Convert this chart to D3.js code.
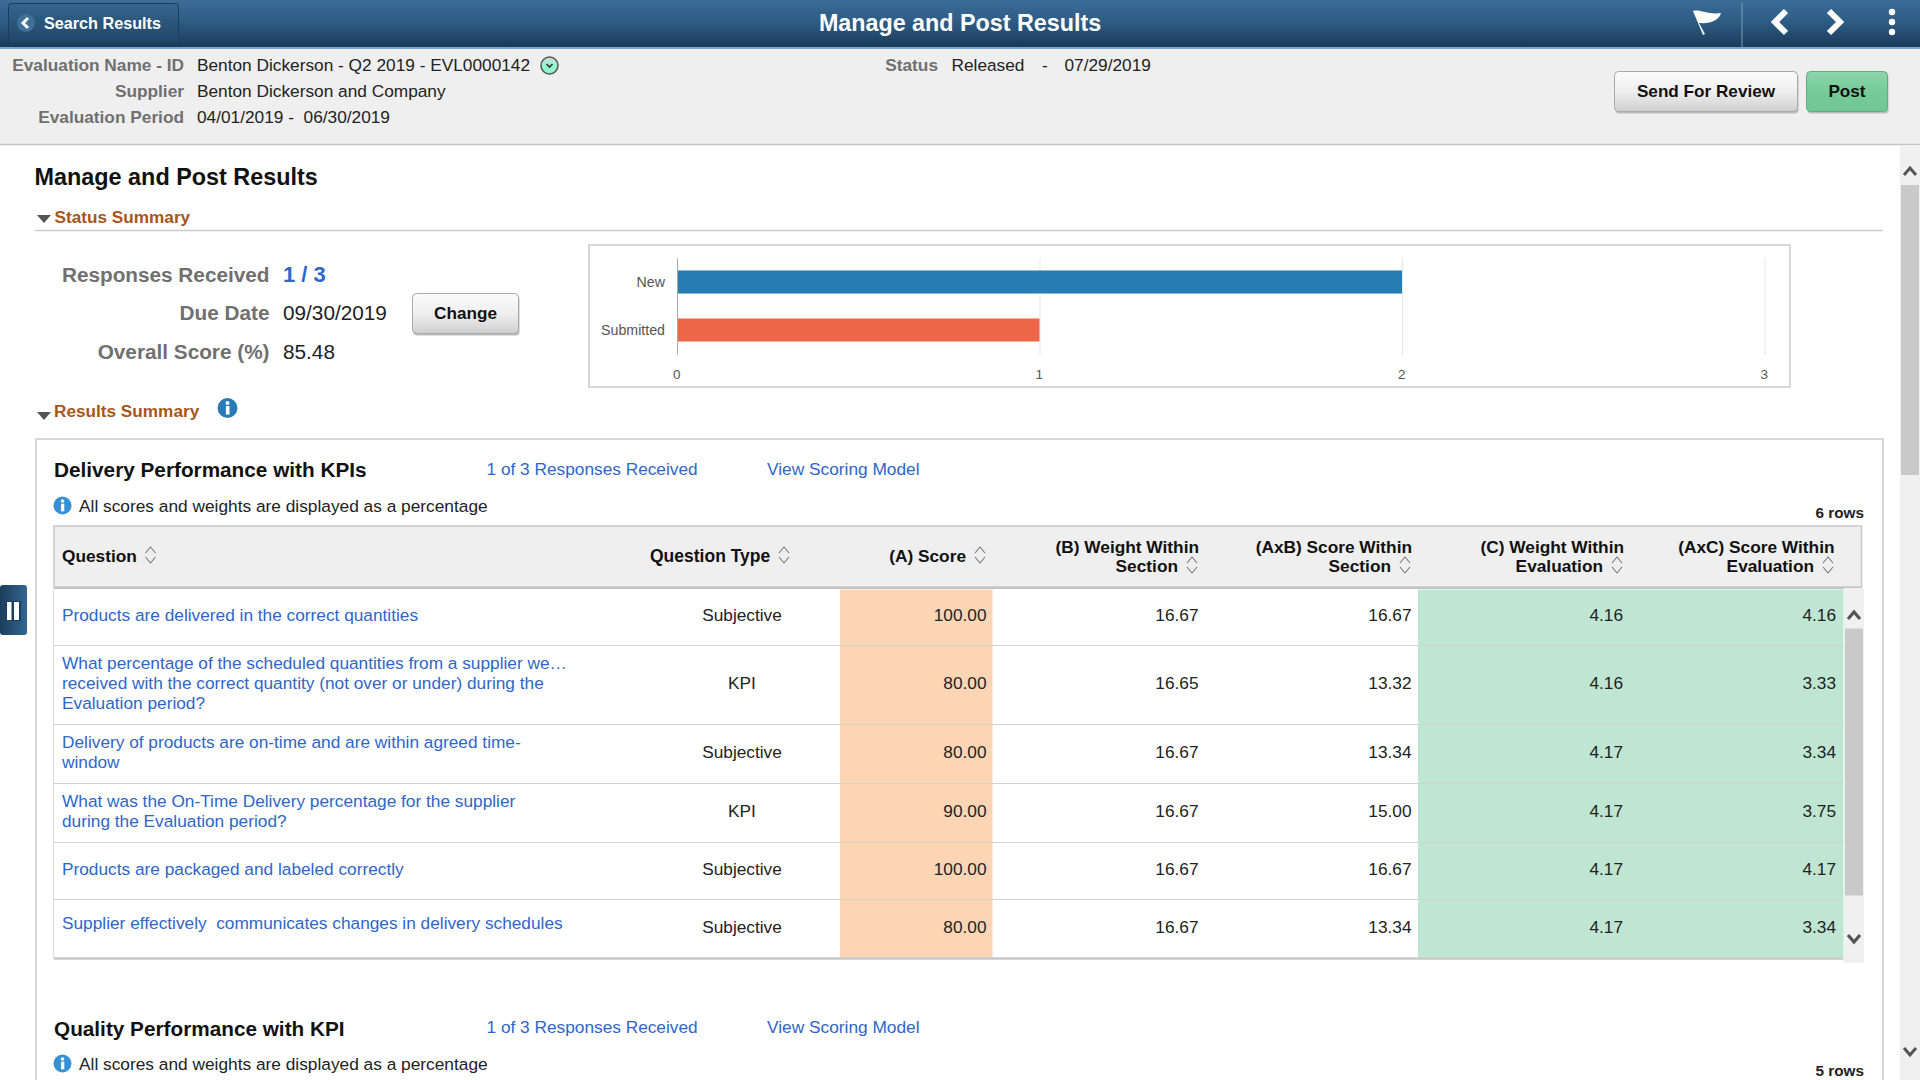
<!DOCTYPE html>
<html>
<head>
<meta charset="utf-8">
<title>Manage and Post Results</title>
<script src="https://cdn.jsdelivr.net/npm/d3@7"></script>
<style>
  html, body { margin: 0; padding: 0; background: #fff; overflow: hidden; }
  svg { display: block; font-family: "Liberation Sans", Arial, sans-serif; }
  .tick-label text { font-family: "Liberation Sans", Arial, sans-serif; }
</style>
</head>
<body>
<svg id="page" width="1920" height="1080"></svg>
<script>
// status chart
const statusCategories = ["New", "Submitted"];
const statusCounts = [2, 1];

// results table
const columnHeaders = [
  ["(A) Score"],
  ["(B) Weight Within", "Section"],
  ["(AxB) Score Within", "Section"],
  ["(C) Weight Within", "Evaluation"],
  ["(AxC) Score Within", "Evaluation"],
];
const questions = [
  ["Products are delivered in the correct quantities"],
  ["What percentage of the scheduled quantities from a supplier we…", "received with the correct quantity (not over or under) during the", "Evaluation period?"],
  ["Delivery of products are on-time and are within agreed time-", "window"],
  ["What was the On-Time Delivery percentage for the supplier", "during the Evaluation period?"],
  ["Products are packaged and labeled correctly"],
  ["Supplier effectively  communicates changes in delivery schedules"],
];
const questionTypes = ["Subjective", "KPI", "Subjective", "KPI", "Subjective", "Subjective"];
const scores = [100, 80, 80, 90, 100, 80];
const weightSection = [16.67, 16.65, 16.67, 16.67, 16.67, 16.67];
const scoreSection = [16.67, 13.32, 13.34, 15.0, 16.67, 13.34];
const weightEvaluation = [4.16, 4.16, 4.17, 4.17, 4.17, 4.17];
const scoreEvaluation = [4.16, 3.33, 3.34, 3.75, 4.17, 3.34];

// layout
const ROW_EDGES = [587, 645, 724, 783, 842, 899, 958];
const QUESTION_NUDGE = [0, 0, 0, 0, 0, -4];
const COLUMN_RIGHT = [986.5, 1198.5, 1411.5, 1623, 1836];
const HEADER_RIGHT = [966, 1178, 1391, 1603, 1814];
const HEADER_TOP_RIGHT = [966, 1199, 1412, 1624, 1834.5];
const LINK_BLUE = "#2f66c8";
const TEXT_SIZE = 17.28;
const HEAD_SIZE = 17.3;
const BIG_SIZE = 20.75;

const svg = d3.select("#page");
const defs = svg.append("defs");

function gradient(id, stops, horizontal) {
  const g = defs.append("linearGradient").attr("id", id)
    .attr("x1", 0).attr("y1", 0)
    .attr("x2", horizontal ? 1 : 0).attr("y2", horizontal ? 0 : 1);
  stops.forEach((s, i) => g.append("stop").attr("offset", i / (stops.length - 1)).attr("stop-color", s));
}
gradient("barGrad", ["#3b6d97", "#2c5a82", "#1a3a58"]);
gradient("backGrad", ["#35658e", "#1f4566"]);
gradient("btnGrad", ["#fafafa", "#efefef", "#cfcfcf"]);
gradient("postGrad", ["#8fd4ab", "#76cb99", "#6fc793"]);
gradient("tabGrad", ["#1c3d5c", "#34668f"], true);
gradient("dropGrad", ["#d8d8d8", "#90f7d2", "#90f7d2"]);

function text(x, y, str, size, opts) {
  const o = opts || {};
  return svg.append("text")
    .attr("x", x).attr("y", y)
    .attr("font-size", size)
    .attr("font-weight", o.weight || "normal")
    .attr("text-anchor", o.anchor || "start")
    .attr("fill", o.fill || "#222")
    .text(str);
}

function rect(x, y, w, h, fill, stroke) {
  return svg.append("rect")
    .attr("x", x).attr("y", y).attr("width", w).attr("height", h)
    .attr("fill", fill).attr("stroke", stroke || "none");
}

function line(x1, y1, x2, y2, color, width) {
  return svg.append("line")
    .attr("x1", x1).attr("y1", y1).attr("x2", x2).attr("y2", y2)
    .attr("stroke", color).attr("stroke-width", width || 1);
}

function path(d, stroke, width, fill) {
  return svg.append("path")
    .attr("d", d)
    .attr("fill", fill || "none")
    .attr("stroke", stroke || "none")
    .attr("stroke-width", width || 1);
}

function button(x, y, w, h, fill, border, label) {
  rect(x + 1, y + 2, w, h, "#bbb").attr("rx", 4);
  rect(x, y, w, h, fill, border).attr("rx", 4);
  text(x + w / 2, y + h / 2 + 5, label, 17.15, { weight: "bold", anchor: "middle", fill: "#111" });
}

function infoIcon(cx, cy, r, fill) {
  svg.append("circle").attr("cx", cx).attr("cy", cy).attr("r", r).attr("fill", fill);
  rect(cx - r * 0.16, cy - r * 0.2, r * 0.36, r * 0.85, "#fff");
  svg.append("circle").attr("cx", cx + 0.02).attr("cy", cy - r * 0.5).attr("r", r * 0.2).attr("fill", "#fff");
}

function sortIcon(cx, cy) {
  path(`M${cx - 5},${cy - 2}L${cx},${cy - 8}L${cx + 5},${cy - 2}`, "#777", 1.1);
  path(`M${cx - 5},${cy + 2}L${cx},${cy + 8}L${cx + 5},${cy + 2}`, "#777", 1.1);
}

function sectionToggle(x, y) {
  path(`M${x},${y}L${x + 14},${y}L${x + 7},${y + 8}Z`, "none", 0, "#555");
}

// top bar
rect(0, 0, 1920, 47, "url(#barGrad)");
rect(0, 47, 1920, 2, "#7aa6d6");
rect(8.5, 3.5, 170, 40, "url(#backGrad)", "#1b3d5c").attr("rx", 3);
svg.append("circle").attr("cx", 26).attr("cy", 23).attr("r", 9).attr("fill", "#3f7099");
path("M28,18L23,23L28,28", "#fff", 3);
text(44, 29, "Search Results", 16.2, { weight: "bold", fill: "#fff" });
text(960, 31, "Manage and Post Results", 23.3, { weight: "bold", anchor: "middle", fill: "#fff" });
path("M1693,11C1700,9 1708,15 1721,13C1719,19 1714,24 1699,23L1705,34L1703,35Z", "none", 0, "#fff");
line(1742, 3, 1742, 48, "#7f9db8");
path("M1786,11L1775,22L1786,33", "#fff", 6);
path("M1829,11L1840,22L1829,33", "#fff", 6);
[12, 22, 32].forEach((y) => svg.append("circle").attr("cx", 1892).attr("cy", y).attr("r", 3.2).attr("fill", "#fff"));

// evaluation info band
rect(0, 49, 1920, 95, "#efefef");
line(0, 144.5, 1920, 144.5, "#c4c4c4", 1.5);
const infoLabels = ["Evaluation Name - ID", "Supplier", "Evaluation Period"];
const infoValues = ["Benton Dickerson - Q2 2019 - EVL0000142", "Benton Dickerson and Company", "04/01/2019 -  06/30/2019"];
const infoBaselines = [71, 97, 122.5];
infoLabels.forEach((d, i) => text(184, infoBaselines[i], d, TEXT_SIZE, { weight: "bold", anchor: "end", fill: "#707070" }));
infoValues.forEach((d, i) => text(197, infoBaselines[i], d, TEXT_SIZE).attr("xml:space", "preserve"));
svg.append("circle").attr("cx", 549.5).attr("cy", 65.5).attr("r", 8.5).attr("fill", "url(#dropGrad)").attr("stroke", "#555").attr("stroke-width", 1.5);
path("M546.5,64L549.5,67L552.5,64", "#333", 1.6);
text(938, 71, "Status", TEXT_SIZE, { weight: "bold", anchor: "end", fill: "#707070" });
text(951.5, 71, "Released", TEXT_SIZE);
text(1042, 71, "-", TEXT_SIZE);
text(1064.5, 71, "07/29/2019", TEXT_SIZE);
button(1614.5, 71.5, 183, 40, "url(#btnGrad)", "#aaa", "Send For Review");
button(1806.5, 71.5, 81, 40, "url(#postGrad)", "#5fae82", "Post");

// page scrollbar
rect(1900, 145, 20, 935, "#f0f0f0");
rect(1901, 185, 18, 290, "#c9c9c9");
path("M1904,175L1910,168L1916,175", "#555", 3);
path("M1904,1048L1910,1055L1916,1048", "#555", 3);

// page title and status summary
text(34.5, 185, "Manage and Post Results", 23.4, { weight: "bold", fill: "#111" });
sectionToggle(37, 215);
text(54.5, 222.5, "Status Summary", 17.2, { weight: "bold", fill: "#a8551b" });
line(35, 230.5, 1883, 230.5, "#ccc", 1.5);

text(269.5, 282, "Responses Received", BIG_SIZE, { weight: "bold", anchor: "end", fill: "#707070" });
text(283, 282, "1 / 3", 22, { weight: "bold", fill: LINK_BLUE });
text(269.5, 320, "Due Date", BIG_SIZE, { weight: "bold", anchor: "end", fill: "#707070" });
text(283, 320, "09/30/2019", BIG_SIZE);
text(269.5, 358.5, "Overall Score (%)", BIG_SIZE, { weight: "bold", anchor: "end", fill: "#707070" });
text(283, 358.5, "85.48", BIG_SIZE);
button(412.5, 293.5, 106, 40, "url(#btnGrad)", "#aaa", "Change");

// status bar chart
rect(589, 245, 1201, 142, "#fff", "#ccc").attr("stroke-width", 1.5);
const x = d3.scaleLinear().domain([0, 3]).range([677, 1764.5]);
const y = d3.scaleBand().domain(statusCategories).range([258, 354])
  .paddingInner(0.52).paddingOuter(0.26);
const barColor = d3.scaleOrdinal().domain(statusCategories).range(["#277cb4", "#ee6748"]);

const xAxis = svg.append("g")
  .attr("class", "tick-label")
  .attr("transform", "translate(0,355)")
  .call(d3.axisBottom(x).ticks(3).tickSize(-97).tickPadding(14).tickFormat(d3.format("d")));
xAxis.select(".domain").remove();
xAxis.selectAll("line").attr("stroke", "#e6e6e6");
xAxis.selectAll("text").attr("font-size", 13.5).attr("fill", "#555").attr("dx", -0.7);

svg.append("g").selectAll("rect")
  .data(statusCategories)
  .join("rect")
  .attr("x", x(0))
  .attr("y", (d) => y(d))
  .attr("width", (d, i) => x(statusCounts[i]) - x(0))
  .attr("height", y.bandwidth())
  .attr("fill", (d) => barColor(d));

const yAxis = svg.append("g")
  .attr("class", "tick-label")
  .attr("transform", "translate(677,0)")
  .call(d3.axisLeft(y).tickSize(0).tickPadding(12));
yAxis.select(".domain").attr("stroke", "#aaa");
yAxis.selectAll("text").attr("font-size", 14.2).attr("fill", "#555").attr("dy", "0.38em");

// results summary
sectionToggle(37, 412);
text(54, 417, "Results Summary", 17.2, { weight: "bold", fill: "#a8551b" });
infoIcon(227.5, 408, 10, "#2a7ab5");

rect(36, 439, 1847, 700, "#fff", "#ccc").attr("stroke-width", 1.5);

function sectionHead(titleStr, rowsStr, titleY, linkY, noteY, rowsY) {
  text(54, titleY, titleStr, BIG_SIZE, { weight: "bold", fill: "#111" });
  text(486.5, linkY, "1 of 3 Responses Received", TEXT_SIZE, { fill: LINK_BLUE });
  text(767, linkY, "View Scoring Model", TEXT_SIZE + 0.03, { fill: LINK_BLUE });
  infoIcon(62.5, noteY - 6, 9, "#3590d6");
  text(79, noteY, "All scores and weights are displayed as a percentage", TEXT_SIZE + 0.03);
  text(1864, rowsY, rowsStr, 15.3, { weight: "bold", anchor: "end", fill: "#222" });
}
sectionHead("Delivery Performance with KPIs", "6 rows", 477, 475, 511.5, 518);
sectionHead("Quality Performance with KPI", "5 rows", 1036, 1033, 1069.5, 1076);

// table header
rect(54, 526, 1807.5, 61, "#efefef", "#c8c8c8").attr("stroke-width", 1.5);
line(54, 588, 1861.5, 588, "#c4c4c4", 2);
text(62, 562, "Question", HEAD_SIZE, { weight: "bold", fill: "#111" });
sortIcon(150.5, 555);
text(650, 562, "Question Type", HEAD_SIZE + 0.2, { weight: "bold", fill: "#111" });
sortIcon(784, 555);
columnHeaders.forEach((lines, c) => {
  if (lines.length === 1) {
    text(HEADER_RIGHT[c], 562, lines[0], HEAD_SIZE, { weight: "bold", anchor: "end", fill: "#111" });
    sortIcon(HEADER_RIGHT[c] + 14, 555);
  } else {
    text(HEADER_TOP_RIGHT[c], 553, lines[0], HEAD_SIZE, { weight: "bold", anchor: "end", fill: "#111" });
    text(HEADER_RIGHT[c], 572, lines[1], HEAD_SIZE, { weight: "bold", anchor: "end", fill: "#111" });
    sortIcon(HEADER_RIGHT[c] + 14, 565);
  }
});

// table rows
const rowTop = d3.scaleOrdinal().domain(d3.range(7)).range(ROW_EDGES);
const rowMid = (i) => (rowTop(i) + rowTop(i + 1)) / 2;
const rowIndex = d3.range(questions.length);

rect(840, 589.5, 152.5, 368, "#fcd5b5");
rect(1418, 589.5, 425.5, 368, "#bfe6d3");
line(53.5, 588, 53.5, 958, "#ddd", 1);

svg.append("g").selectAll("line")
  .data(rowIndex.slice(1))
  .join("line")
  .attr("x1", 54).attr("x2", 1843.5)
  .attr("y1", (i) => rowTop(i) + 0.5).attr("y2", (i) => rowTop(i) + 0.5)
  .attr("stroke", "#d2d2d2").attr("stroke-width", 1.2);
line(54, 958.5, 1843.5, 958.5, "#c8c8c8", 2.5);

const tableText = svg.append("g");
rowIndex.forEach((i) => {
  questions[i].forEach((str, k) => {
    const base = rowMid(i) + 4.5 + QUESTION_NUDGE[i] + (k - (questions[i].length - 1) / 2) * 20;
    tableText.append("text")
      .attr("x", 62).attr("y", base)
      .attr("font-size", TEXT_SIZE).attr("fill", LINK_BLUE)
      .attr("xml:space", "preserve")
      .text(str);
  });
  tableText.append("text")
    .attr("x", 742).attr("y", rowMid(i) + 4.5)
    .attr("text-anchor", "middle")
    .attr("font-size", TEXT_SIZE).attr("fill", "#222")
    .text(questionTypes[i]);
});

const numberColumns = [scores, weightSection, scoreSection, weightEvaluation, scoreEvaluation];
const fmt = d3.format(".2f");
numberColumns.forEach((vals, c) => {
  tableText.append("g").selectAll("text")
    .data(vals)
    .join("text")
    .attr("x", COLUMN_RIGHT[c])
    .attr("y", (d, i) => rowMid(i) + 4.5)
    .attr("text-anchor", "end")
    .attr("font-size", TEXT_SIZE).attr("fill", "#222")
    .text((d) => fmt(d));
});

// table scrollbar
rect(1844, 588, 20, 375, "#f0f0f0");
rect(1845, 628.5, 18, 267, "#c9c9c9");
path("M1848,619L1854,612L1860,619", "#555", 3.2);
path("M1848,935L1854,942L1860,935", "#555", 3.2);

// collapse tab
rect(0, 585, 27, 50, "url(#tabGrad)").attr("rx", 3);
rect(5, 601, 16, 20, "#1d3f5e");
rect(7, 602, 4.5, 18, "#fff");
rect(14, 602, 5, 18, "#fff");
</script>
</body>
</html>
